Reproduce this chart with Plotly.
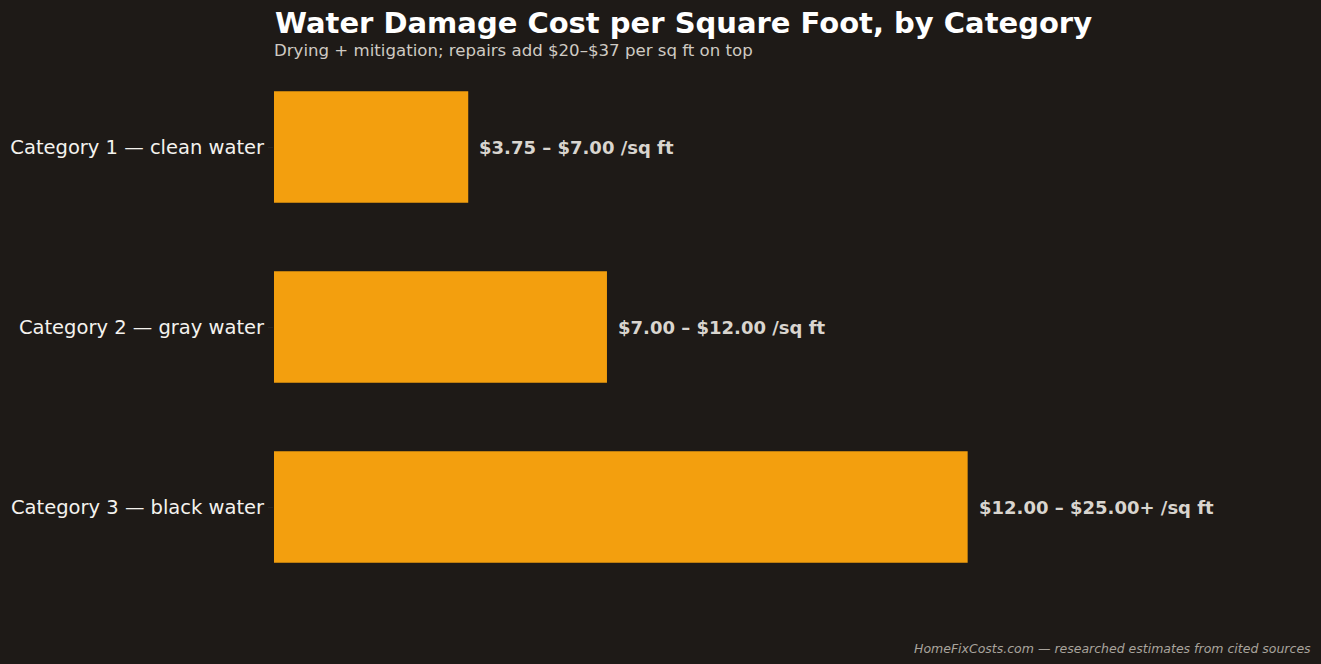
import plotly.graph_objects as go

categories = ["Category 1 — clean water", "Category 2 — gray water", "Category 3 — black water"]
upper_values = [7.0, 12.0, 25.0]
range_labels = ["$3.75 – $7.00 /sq ft", "$7.00 – $12.00 /sq ft", "$12.00 – $25.00+ /sq ft"]

BG = "#1e1a17"
BAR = "#f39f0e"
FONT = "DejaVu Sans"

fig = go.Figure()
fig.add_trace(go.Bar(
    x=upper_values, y=categories, orientation="h",
    marker=dict(color=BAR, line=dict(width=0)),
    width=0.62, hoverinfo="skip",
))

for v, c, lab in zip(upper_values, categories, range_labels):
    fig.add_annotation(x=v, y=c, text=f"<b>{lab}</b>", showarrow=False,
                       xanchor="left", yanchor="middle", xshift=9,
                       font=dict(family=FONT, size=18, color="#d9d5cf"))

fig.add_annotation(x=0, y=1, xref="paper", yref="paper", yshift=53, xshift=-1,
                   text="<b>Water Damage Cost per Square Foot, by Category</b>",
                   showarrow=False, xanchor="left", yanchor="top",
                   font=dict(family=FONT, size=29, color="#ffffff"))
fig.add_annotation(x=0, y=1, xref="paper", yref="paper", yshift=-5, xshift=-2,
                   text="Drying + mitigation; repairs add $20–$37 per sq ft on top",
                   showarrow=False, xanchor="left", yanchor="bottom",
                   font=dict(family=FONT, size=16.6, color="#cfcac3"))
fig.add_annotation(x=1.0, y=0, xref="paper", yref="paper", yshift=-61, xshift=102,
                   text="<i>HomeFixCosts.com — researched estimates from cited sources</i>",
                   showarrow=False, xanchor="right", yanchor="bottom",
                   font=dict(family=FONT, size=12.5, color="#a9a49d"))

fig.update_layout(
    width=1321, height=664,
    paper_bgcolor=BG, plot_bgcolor=BG,
    margin=dict(l=274, r=110, t=57, b=67),
    showlegend=False,
    font=dict(family=FONT, color="#ffffff"),
    xaxis=dict(range=[0, 33.77], visible=False, showgrid=False, zeroline=False,
               automargin=False),
    yaxis=dict(autorange="reversed", showgrid=False, zeroline=False, showline=False,
               ticks="outside", ticklen=5, tickcolor="#2a2622", tickwidth=1,
               tickfont=dict(family=FONT, size=19.5, color="#f4f2ee"),
               ticklabelstandoff=0, automargin=False),
)

fig.write_html("out.html")
